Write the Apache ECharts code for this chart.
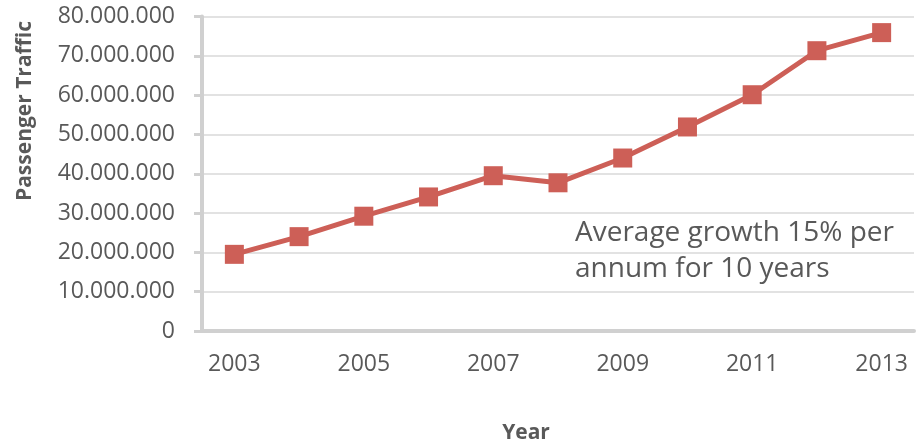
<!DOCTYPE html>
<html>
<head>
<meta charset="utf-8">
<script src="https://cdn.jsdelivr.net/npm/echarts@6/dist/echarts.min.js"></script>
<style>
  html, body { margin: 0; padding: 0; background: #ffffff; }
  #chart { width: 920px; height: 443px; }
</style>
</head>
<body>
<div id="chart"></div>
<script>
// Annual passenger traffic, 2003–2013
const years = ['2003', '2004', '2005', '2006', '2007', '2008', '2009', '2010', '2011', '2012', '2013'];
const passengers = [19500000, 24000000, 29200000, 34100000, 39500000, 37700000, 44000000, 51900000, 60100000, 71300000, 75900000];
const yTicks = [0, 10000000, 20000000, 30000000, 40000000, 50000000, 60000000, 70000000, 80000000];
const xTitle = 'Year';
const yTitle = 'Passenger Traffic';
const note = 'Average growth 15% per\nannum for 10 years';

const FONT = '"Open Sans", "Noto Sans", sans-serif';
const TEXT = '#595959';
const AXIS = '#d0d0d0';
const GRID = '#d9d9d9';
const LINE = '#cd5f57';

// thousands separated with dots
function fmt(v) {
  return String(v).replace(/\B(?=(\d{3})+(?!\d))/g, '.');
}

const chart = echarts.init(document.getElementById('chart'), null, { renderer: 'canvas' });
chart.setOption({
  animation: false,
  backgroundColor: '#ffffff',
  grid: { left: 202, right: 6, top: 16.5, bottom: 112, containLabel: false },
  xAxis: {
    type: 'category',
    data: years,
    boundaryGap: true,
    axisLine: { show: true, lineStyle: { color: AXIS, width: 4 } },
    axisTick: { show: false },
    axisLabel: { interval: 1, margin: 22, color: TEXT, fontSize: 23, fontFamily: FONT }
  },
  yAxis: {
    type: 'value',
    min: yTicks[0],
    max: yTicks[yTicks.length - 1],
    interval: yTicks[1] - yTicks[0],
    axisLine: { show: true, lineStyle: { color: AXIS, width: 4 } },
    axisTick: { show: true, length: 8, lineStyle: { color: AXIS, width: 3 } },
    splitLine: { show: true, lineStyle: { color: GRID, width: 1.5 } },
    axisLabel: { margin: 27, color: TEXT, fontSize: 23, fontFamily: FONT, formatter: fmt }
  },
  series: [{
    type: 'line',
    data: passengers,
    symbol: 'rect',
    symbolSize: 19,
    lineStyle: { color: LINE, width: 5 },
    itemStyle: { color: LINE },
    z: 3
  }],
  graphic: [
    {
      type: 'text',
      left: 575,
      top: 215,
      style: { text: note, fill: TEXT, font: '28px ' + FONT, lineHeight: 36 }
    },
    {
      type: 'text',
      x: 526,
      y: 433,
      style: { text: xTitle, fill: TEXT, font: 'bold 21px ' + FONT, align: 'center', verticalAlign: 'middle' }
    },
    {
      type: 'text',
      x: 25,
      y: 111,
      rotation: Math.PI / 2,
      style: { text: yTitle, fill: TEXT, font: 'bold 21px ' + FONT, align: 'center', verticalAlign: 'middle' }
    }
  ]
});
</script>
</body>
</html>
